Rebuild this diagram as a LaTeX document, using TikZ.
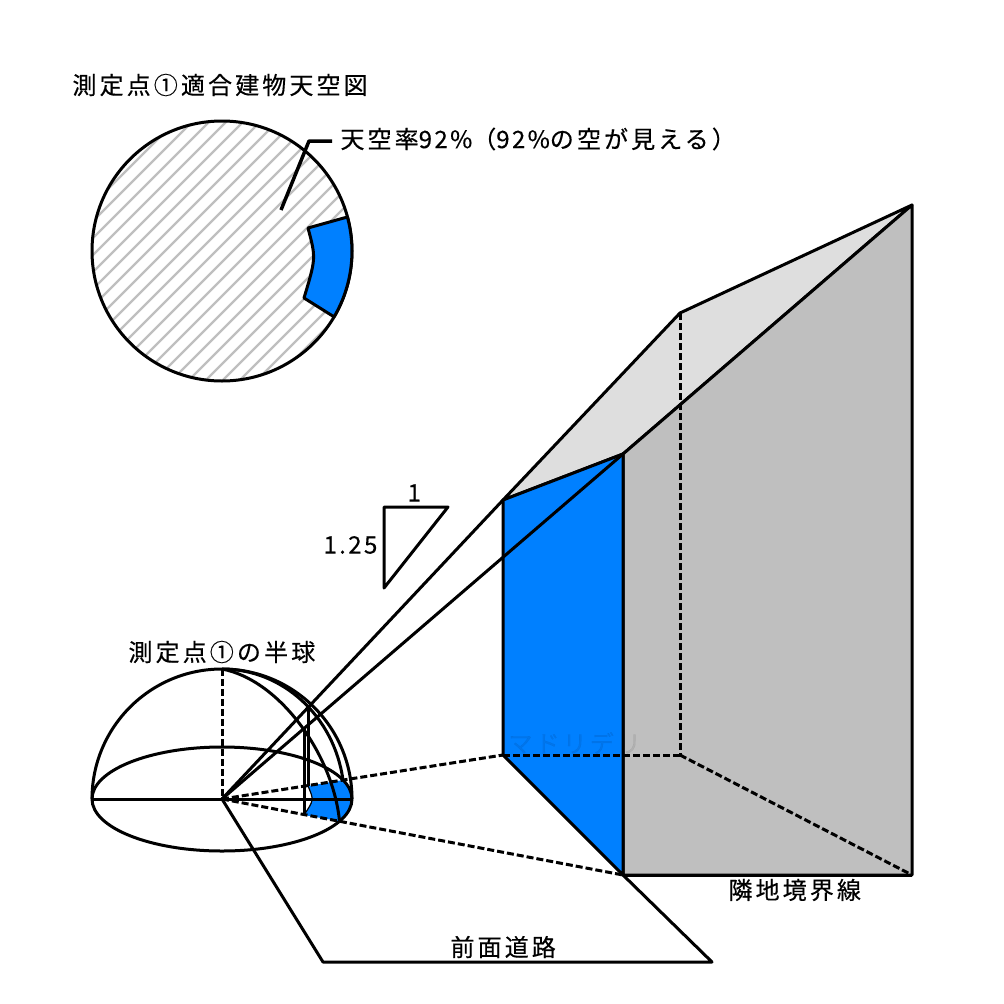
\documentclass[tikz,border=0pt]{standalone}
\usepackage{fontspec}
\newfontfamily\jpfont[LetterSpace=13,FakeBold=0.4]{Noto Sans CJK JP}
\newfontfamily\digitfont[LetterSpace=10,FakeBold=0.4]{Noto Sans CJK JP}
\usetikzlibrary{calc}
\definecolor{skyblue}{HTML}{0080FF}
\definecolor{wallgray}{HTML}{BFBFBF}
\definecolor{roofgray}{HTML}{DEDEDE}
\tikzset{
    label/.style = {font=\jpfont\fontsize{24}{26}\selectfont, anchor=west, inner sep=0pt},
    dashline/.style = {dash pattern=on 7pt off 3pt},
    hatchline/.style = {color=wallgray, line width=2.3pt},
}

\begin{document}
\begin{tikzpicture}[x=1pt,y=-1pt,line width=3pt,line join=round]
\useasboundingbox (0,0) rectangle (1004,1004);

\coordinate (sky) at (222,251);
\coordinate (o) at (222,799);
\coordinate (top) at (222,669);
\coordinate (left) at (92,799);
\coordinate (right) at (352,799);

\coordinate (fronttl) at (503,500);
\coordinate (fronttr) at (623,454);
\coordinate (frontbl) at (503,755);
\coordinate (frontbr) at (623,875);
\coordinate (backtl) at (680,313);
\coordinate (backbl) at (680,755);
\coordinate (sidetr) at (912,205);
\coordinate (sidebr) at (912,875);
\coordinate (roadl) at (323,962);
\coordinate (roadr) at (712,962);

\node[label] (title) at (71,85) {測定点①適合建物天空図};
\node[label] (rate) at (339,139) {天空率{\digitfont 92\%}（{\digitfont 92\%}の空が見える）};
\node[label] (half) at (127,652) {測定点①の半球};
\node[label] (bldg) at (714,581) {適合建物};
\node[label] (bound) at (727,890) {隣地境界線};
\node[label] (road) at (449,947) {前面道路};

% sky map
\fill[white] (sky) circle[radius=130];
\begin{scope}
\clip (sky) circle[radius=130];
\foreach \i in {-11,...,11} {
    \draw[hatchline] ($(sky)+(\i*17-6-150,150)$) -- ($(sky)+(\i*17-6+150,-150)$);
}
\end{scope}
\draw (sky) circle[radius=130];
\coordinate (skyblue1) at (347.4,217);
\coordinate (skyblue2) at (304,298);
\coordinate (skyblue3) at (308,228);
\filldraw[fill=skyblue] (skyblue1) arc[start angle=-15.2,end angle=30.4,radius=130] -- (skyblue2) .. controls (316,258) .. (skyblue3) -- cycle;
\coordinate (lead1) at (281,210);
\coordinate (lead2) at (309,141);
\coordinate (lead3) at (332,141);
\draw[line width=3.5pt] (lead1) -- (lead2) -- (lead3);

% building
\filldraw[fill=roofgray] (fronttl) -- (backtl) -- (sidetr) -- (fronttr) -- cycle;
\filldraw[fill=wallgray] (fronttr) -- (sidetr) -- (sidebr) -- (frontbr) -- cycle;
\filldraw[fill=skyblue] (fronttl) -- (fronttr) -- (frontbr) -- (frontbl) -- cycle;
\node[label, opacity=.08] (ghost) at (507,743) {マドリデリ};
\draw[dashline] (backtl) -- (backbl);
\draw[dashline] (frontbl) -- (backbl);
\draw[dashline] (backbl) -- (sidebr);

% hemisphere
\coordinate (rim1) at (343,780);
\coordinate (rim2) at (339.5,821);
\coordinate (foot1) at (308,786);
\coordinate (foot2) at (304,815);
\coordinate (hit1) at (308,707);
\coordinate (hit2) at (304,729);
\fill[skyblue] (foot1) -- (rim1) arc[start angle=-21.4,end angle=25.3,x radius=130,y radius=52] -- (foot2) .. controls (314,800) .. (foot1) -- cycle;
\draw[line width=1.2pt] (foot2) .. controls (314,800) .. (foot1);
\draw (left) arc[start angle=180,end angle=360,radius=130];
\draw (o) ellipse[x radius=130,y radius=52];
\draw (left) -- (right);
\draw[dashline] (top) -- (o);
\draw (top) arc[start angle=270,end angle=351.6,x radius=122.3,y radius=130];
\draw (top) .. controls (280,680) and (333,755) .. (rim2);
\draw (hit1) -- (foot1);
\draw (hit2) -- (foot2);

% sight lines
\draw (o) -- (fronttl);
\draw (o) -- (fronttr);
\draw[dashline] (o) -- (frontbl);
\draw[dashline] (o) -- (frontbr);
\draw (o) -- (roadl) -- (roadr) -- (frontbr);
\draw (frontbr) -- (sidebr);

% slope
\coordinate (tria) at (384,507);
\coordinate (trib) at (448,507);
\coordinate (tric) at (384,588);
\draw (tria) -- (trib) -- (tric) -- cycle;
\node[label] (one) at (406,493) {1};
\node[label, font=\digitfont\fontsize{24}{26}\selectfont] (ratio) at (322,545) {1.25};
\end{tikzpicture}
\end{document}
